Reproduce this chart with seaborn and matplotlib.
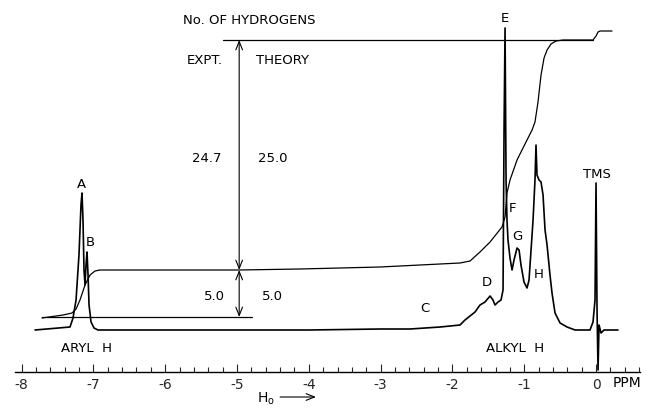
"""NMR spectrum with integral trace, redrawn with seaborn/matplotlib."""

import matplotlib
matplotlib.use("Agg")
import matplotlib.pyplot as plt
import numpy as np
import pandas as pd
import seaborn as sns


# chemical shift (ppm) and signal height of the spectrum trace
SPEC_PPM = [
    -7.813, -7.326, -7.284, -7.242, -7.201, -7.173, -7.159, -7.145, -7.131,
    -7.117, -7.103, -7.089, -7.075, -7.061, -7.033, -6.992, -6.936,
    -6.0, -4.0, -3.0, -2.59, -2.17, -1.894,
    -1.825, -1.755, -1.685, -1.616, -1.546, -1.476, -1.435, -1.407, -1.365,
    -1.323, -1.295, -1.281, -1.267, -1.253, -1.240, -1.226, -1.198, -1.170,
    -1.142, -1.100, -1.072, -1.045, -1.003, -0.961, -0.933, -0.905, -0.877,
    -0.850, -0.836, -0.822, -0.794, -0.766, -0.738, -0.710, -0.682, -0.641,
    -0.613, -0.571, -0.501, -0.404, -0.292, -0.084, -0.042, -0.014, 0.000,
    0.014, 0.028, 0.042, 0.070, 0.111, 0.306,
]
SPEC_HEIGHT = [
    0, 3, 12, 30, 75, 125, 137, 110, 60,
    45, 65, 78, 55, 25, 8, 2, 0,
    0, 0, 1, 1, 3, 5,
    10, 14, 18, 25, 28, 34, 30, 25, 28,
    30, 40, 200, 302, 150, 110, 90, 72, 60,
    70, 82, 80, 65, 48, 42, 50, 80, 110,
    150, 185, 155, 150, 148, 135, 100, 85, 55,
    37, 17, 7, 3, 0, 0, 8, 30, 147,
    20, -40, 5, -3, 0, 0,
]

# integral trace
INT_PPM = [
    -7.716, -7.423, -7.298, -7.242, -7.187, -7.117, -7.047, -6.978, -6.908,
    -6.490, -4.958, -4.123, -3.008, -2.451, -1.894, -1.755, -1.616, -1.476,
    -1.365, -1.309, -1.267, -1.240, -1.198, -1.100, -1.045, -0.961, -0.891,
    -0.850, -0.808, -0.766, -0.724, -0.682, -0.627, -0.557, -0.460, -0.042,
    0.000, 0.028, 0.056, 0.223,
]
INT_HEIGHT = [
    12, 15, 17, 21, 30, 45, 55, 59, 60,
    60, 60, 61, 63, 65, 67, 69, 78, 88,
    98, 103, 113, 137, 150, 170, 178, 190, 200,
    208, 228, 255, 272, 280, 286, 289, 290, 290,
    294, 298, 299, 299,
]

PEAK_LABELS = ["A", "B", "C", "D", "E", "F", "G", "H", "TMS"]
TICK_VALUES = [-8, -7, -6, -5, -4, -3, -2, -1, 0]
TICK_LABELS = ["-8", "-7", "-6", "-5", "-4", "-3", "-2", "-1", "0"]
COUNT_HEADERS = ["EXPT.", "THEORY"]
TOTAL_COUNTS = ["24.7", "25.0"]
ARYL_COUNTS = ["5.0", "5.0"]

# where each peak letter sits (ppm, height)
LABEL_POS = {
    "A": (-7.16, 146), "B": (-7.05, 88), "C": (-2.38, 22), "D": (-1.52, 47),
    "E": (-1.27, 312), "F": (-1.16, 122), "G": (-1.10, 93), "H": (-0.80, 55),
    "TMS": (0.01, 156),
}

sns.set_theme(style="white")
plt.rcParams["font.family"] = ["DejaVu Sans"]
plt.rcParams["axes.unicode_minus"] = False

fig = plt.figure(figsize=(6.46, 4.09), dpi=100)
ax = fig.add_axes([0, 0, 1, 1])

spectrum = pd.DataFrame({"ppm": SPEC_PPM, "height": SPEC_HEIGHT})
integral = pd.DataFrame({"ppm": INT_PPM, "height": INT_HEIGHT})
sns.lineplot(data=spectrum, x="ppm", y="height", ax=ax, color="black",
             lw=1.2, sort=False, estimator=None)
sns.lineplot(data=integral, x="ppm", y="height", ax=ax, color="black",
             lw=0.9, sort=False, estimator=None)

ax.set_xlim(-8.301, 0.696)
ax.set_ylim(-79, 330)

# reference lines for the integral steps
ax.plot([-5.19, -0.04], [290, 290], color="black", lw=0.9)
ax.plot([-7.72, -4.79], [13, 13], color="black", lw=0.9)
arrow = dict(arrowstyle="<->,head_length=0.5,head_width=0.2", color="black",
             lw=0.8, shrinkA=0, shrinkB=0)
ax.annotate("", xy=(-4.97, 290), xytext=(-4.97, 60), arrowprops=arrow)
ax.annotate("", xy=(-4.97, 60), xytext=(-4.97, 13), arrowprops=arrow)

txt = dict(color="black", ha="center", va="center", fontsize=9.5)
ax.text(-4.83, 309, "No. OF HYDROGENS", **txt)
for label, x in zip(COUNT_HEADERS, [-5.45, -4.37]):
    ax.text(x, 270, label, **txt)
for label, x in zip(TOTAL_COUNTS, [-5.42, -4.50]):
    ax.text(x, 172, label, **txt)
for label, x in zip(ARYL_COUNTS, [-5.31, -4.50]):
    ax.text(x, 33, label, **txt)
for label in PEAK_LABELS:
    x, y = LABEL_POS[label]
    ax.text(x, y, label, **txt)
ax.text(-7.10, -18, "ARYL  H", **txt)
ax.text(-1.13, -18, "ALKYL  H", **txt)

# axis along the bottom
for side in ["top", "left", "right"]:
    ax.spines[side].set_visible(False)
ax.spines["bottom"].set_position(("data", -42))
ax.spines["bottom"].set_bounds(-8.09, 0.61)
ax.spines["bottom"].set_linewidth(1.0)
ax.spines["bottom"].set_color("black")
ax.set_xticks(TICK_VALUES)
ax.set_xticklabels(TICK_LABELS)
ax.set_xticks(np.arange(-8.0, 0.61, 0.2), minor=True)
ax.tick_params(axis="x", which="major", direction="in", length=6, width=0.8,
               pad=4, labelsize=10, bottom=True)
ax.tick_params(axis="x", which="minor", direction="in", length=3.5,
               width=0.8, bottom=True)
ax.set_yticks([])
ax.set_xlabel("")
ax.set_ylabel("")
ax.text(0.43, -53, "PPM", color="black", ha="center", va="center",
        fontsize=10)
ax.text(-4.60, -69, r"H$_\mathregular{o}$", color="black", ha="center",
        va="center", fontsize=10)
ax.annotate("", xy=(-3.90, -67), xytext=(-4.40, -67),
            arrowprops=dict(arrowstyle="->,head_length=0.5,head_width=0.2",
                            color="black", lw=0.8, shrinkA=0, shrinkB=0))

fig.savefig("out.png", dpi=100)
